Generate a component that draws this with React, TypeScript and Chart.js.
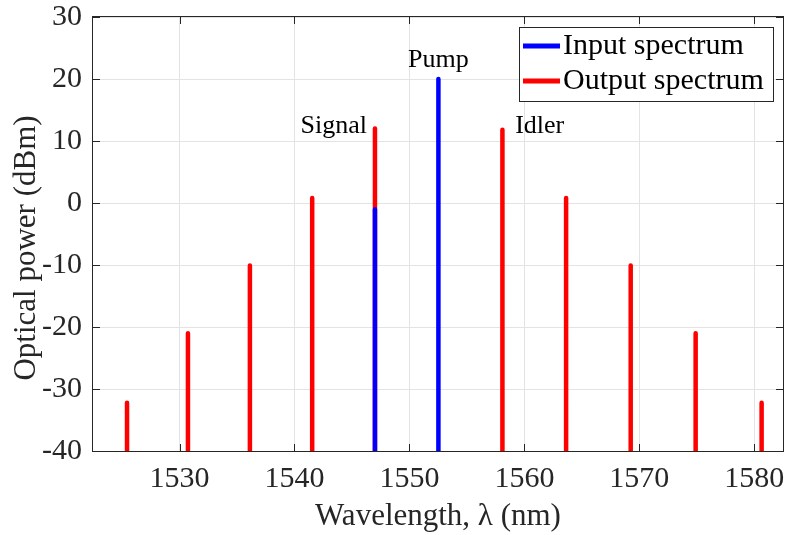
import React, { useEffect, useRef } from 'react';
import { Chart, registerables } from 'chart.js';

Chart.register(...registerables);

// ---- Data ----
const outputWavelengths = [1525.43, 1530.73, 1536.12, 1541.54, 1547.0, 1558.09, 1563.63, 1569.25, 1574.9, 1580.64];
const outputPower = [-32.2, -21.0, -10.1, 0.8, 12.0, 11.8, 0.8, -10.1, -21.0, -32.2];
const inputWavelengths = [1547.0, 1552.52];
const inputPower = [-1.0, 20.0];
const xTicks = [1530, 1540, 1550, 1560, 1570, 1580];
const yTicks = [-40, -30, -20, -10, 0, 10, 20, 30];
const xRange = [1522.47, 1582.5];
const seriesNames = ['Input spectrum', 'Output spectrum'];
const annotationTexts = ['Signal', 'Pump', 'Idler'];
const annotationX = [1546.3, 1552.52, 1559.2];
const annotationY = [11.3, 22.0, 11.3];
const xTitle = 'Wavelength, λ (nm)';
const yTitle = 'Optical power (dBm)';

const FONT = "'Liberation Serif', 'Times New Roman', serif";
const TEXT = '#262626';
const COLORS = ['#0000ff', '#ff0000'];

function stems(xs: number[], ys: number[], floor: number) {
  const pts: { x: number; y: number | null }[] = [];
  xs.forEach((x, i) => {
    pts.push({ x, y: floor }, { x, y: ys[i] }, { x, y: null });
  });
  return pts;
}

const decorPlugin = {
  id: 'decor',
  afterDatasetsDraw(chart: any) {
    const { ctx, chartArea } = chart;
    const { left, right, top, bottom } = chartArea;
    const xs = chart.scales.x;
    const ys = chart.scales.y;
    ctx.save();
    // box
    ctx.strokeStyle = TEXT;
    ctx.lineWidth = 1;
    ctx.strokeRect(Math.round(left) - 0.5, Math.round(top) - 0.5, Math.round(right - left) + 1, Math.round(bottom - top) + 1);
    // inward ticks
    const tl = 7;
    ctx.beginPath();
    xTicks.forEach((v) => {
      const px = Math.round(xs.getPixelForValue(v)) + 0.5;
      ctx.moveTo(px, bottom);
      ctx.lineTo(px, bottom - tl);
      ctx.moveTo(px, top);
      ctx.lineTo(px, top + tl);
    });
    yTicks.forEach((v) => {
      const py = Math.round(ys.getPixelForValue(v)) + 0.5;
      ctx.moveTo(left, py);
      ctx.lineTo(left + tl, py);
      ctx.moveTo(right, py);
      ctx.lineTo(right - tl, py);
    });
    ctx.stroke();

    // annotations
    ctx.fillStyle = '#000';
    ctx.font = `26px ${FONT}`;
    ctx.textBaseline = 'alphabetic';
    const aligns = ['right', 'center', 'left'];
    annotationTexts.forEach((t, i) => {
      ctx.textAlign = aligns[i];
      ctx.fillText(t, xs.getPixelForValue(annotationX[i]), ys.getPixelForValue(annotationY[i]));
    });

    // legend
    ctx.font = `30px ${FONT}`;
    const maxW = Math.max(...seriesNames.map((s) => ctx.measureText(s).width));
    const boxW = Math.round(44 + maxW + 9);
    const boxH = 74;
    const bx = Math.round(right - 10 - boxW);
    const by = Math.round(top + 10);
    ctx.fillStyle = '#ffffff';
    ctx.fillRect(bx, by, boxW, boxH);
    ctx.strokeStyle = TEXT;
    ctx.lineWidth = 1;
    ctx.strokeRect(bx + 0.5, by + 0.5, boxW, boxH);
    seriesNames.forEach((name, i) => {
      const ry = by + 19 + i * 35;
      ctx.strokeStyle = COLORS[i];
      ctx.lineWidth = 5;
      ctx.beginPath();
      ctx.moveTo(bx + 4, ry);
      ctx.lineTo(bx + 41, ry);
      ctx.stroke();
      ctx.fillStyle = '#000';
      ctx.textAlign = 'left';
      ctx.textBaseline = 'middle';
      ctx.fillText(name, bx + 44, ry);
    });

    // axis titles
    ctx.fillStyle = TEXT;
    ctx.font = `31px ${FONT}`;
    ctx.textAlign = 'center';
    ctx.textBaseline = 'alphabetic';
    ctx.fillText(xTitle, (left + right) / 2, 525);
    ctx.save();
    ctx.translate(34.5, (top + bottom) / 2 + 14);
    ctx.rotate(-Math.PI / 2);
    ctx.fillText(yTitle, 0, 0);
    ctx.restore();

    ctx.restore();
  },
};

export default function App() {
  const ref = useRef<HTMLCanvasElement>(null);
  useEffect(() => {
    document.body.style.margin = '0';
    const floor = yTicks[0];
    const chart = new Chart(ref.current as HTMLCanvasElement, {
      type: 'line',
      data: {
        datasets: [
          {
            label: seriesNames[0],
            data: stems(inputWavelengths, inputPower, floor) as any,
            borderColor: COLORS[0],
            borderWidth: 4.5,
            borderCapStyle: 'round',
            pointRadius: 0,
            spanGaps: false,
            clip: { left: 5, top: 5, right: 5, bottom: 0 } as any,
          },
          {
            label: seriesNames[1],
            data: stems(outputWavelengths, outputPower, floor) as any,
            borderColor: COLORS[1],
            borderWidth: 4.5,
            borderCapStyle: 'round',
            pointRadius: 0,
            spanGaps: false,
            clip: { left: 5, top: 5, right: 5, bottom: 0 } as any,
          },
        ],
      },
      options: {
        responsive: false,
        animation: false,
        devicePixelRatio: 1,
        layout: { padding: { top: 17, right: 4, left: 0, bottom: 0 } },
        plugins: { legend: { display: false }, tooltip: { enabled: false } },
        scales: {
          x: {
            type: 'linear',
            min: xRange[0],
            max: xRange[1],
            afterBuildTicks: (s: any) => {
              s.ticks = xTicks.map((v) => ({ value: v }));
            },
            afterFit: (s: any) => {
              s.height = 84;
              s.paddingLeft = 0;
              s.paddingRight = 0;
            },
            grid: { color: '#e3e3e3', lineWidth: 1, drawTicks: false },
            border: { display: false },
            ticks: {
              autoSkip: false,
              maxRotation: 0,
              padding: 10,
              color: TEXT,
              font: { family: FONT, size: 30 },
              callback: (v: any) => String(v),
            },
          },
          y: {
            type: 'linear',
            min: yTicks[0],
            max: yTicks[yTicks.length - 1],
            afterBuildTicks: (s: any) => {
              s.ticks = yTicks.map((v) => ({ value: v }));
            },
            afterFit: (s: any) => {
              s.width = 93;
              s.paddingTop = 0;
              s.paddingBottom = 0;
            },
            grid: { color: '#e3e3e3', lineWidth: 1, drawTicks: false },
            border: { display: false },
            ticks: {
              autoSkip: false,
              padding: 11,
              color: TEXT,
              font: { family: FONT, size: 30 },
              callback: (v: any) => String(v),
            },
          },
        },
      },
      plugins: [decorPlugin],
    });
    return () => chart.destroy();
  }, []);
  return (
    <div style={{ width: 787, height: 535 }}>
      <canvas ref={ref} width={787} height={535} style={{ display: 'block' }} />
    </div>
  );
}
